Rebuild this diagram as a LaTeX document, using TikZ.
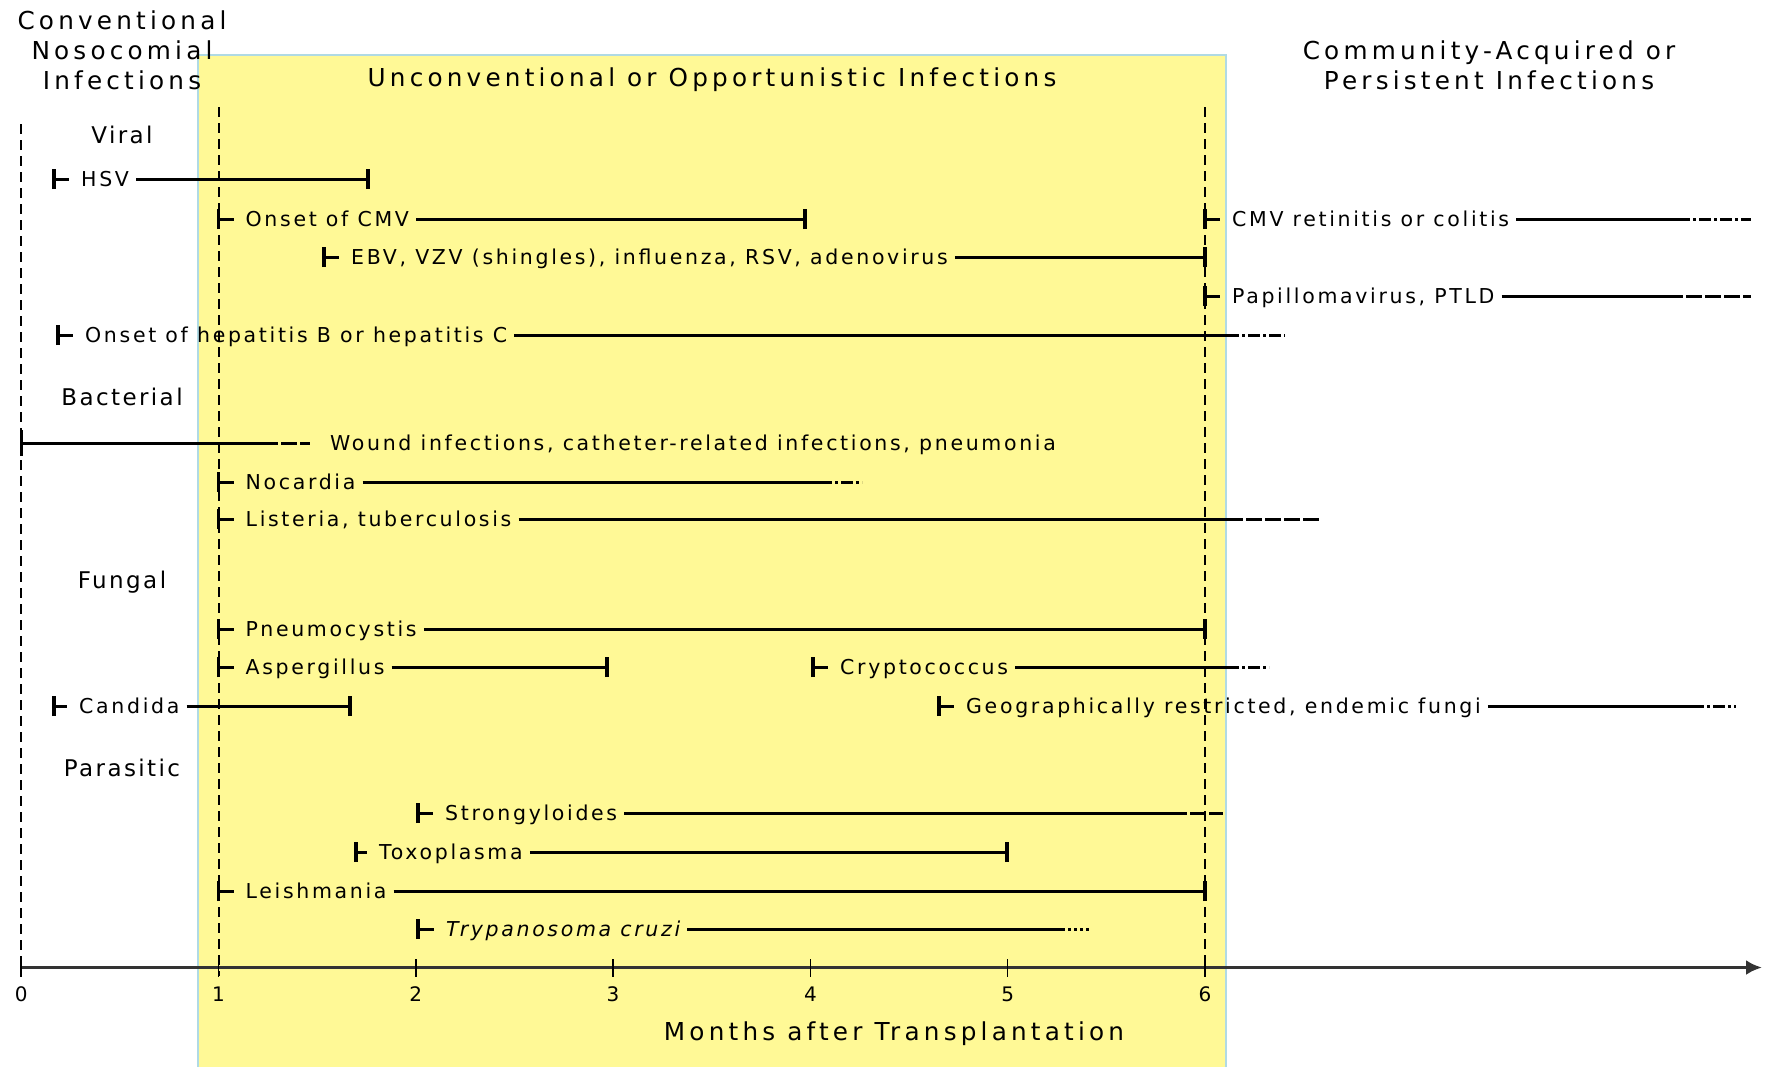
\documentclass[tikz,border=0pt]{standalone}
\usepackage{fontspec}
\usetikzlibrary{arrows.meta}
\setmainfont{DejaVu Sans}
\newfontfamily\rowfont{DejaVu Sans}[LetterSpace=13]
\newfontfamily\ttlfont{DejaVu Sans}[LetterSpace=17]
\newfontfamily\catfont{DejaVu Sans}[LetterSpace=10.5]
\definecolor{boxyellow}{RGB}{255,249,150}
\definecolor{boxblue}{RGB}{176,218,228}
\newcommand\tbarat[1]{\draw[tbar] ([yshift=-10pt]#1) -- ([yshift=10pt]#1);}
\begin{document}
\begin{tikzpicture}[x=1pt,y=-1pt,
  lbl/.style={anchor=west, inner xsep=7pt, inner ysep=0pt, text height=15pt, text depth=0pt, font=\rowfont\fontsize{20.5}{25}\selectfont},
  cat/.style={inner sep=0pt, font=\catfont\fontsize{23}{28}\selectfont},
  ttl/.style={inner sep=0pt, align=center, font=\ttlfont\fontsize{24.7}{30}\selectfont},
  tl/.style={line width=3pt},
  stub/.style={line width=3pt, shorten >=5pt},
  tbar/.style={line width=3.2pt},
  tailA/.style={line width=3pt, dash pattern=on 12pt off 3pt on 3pt off 3pt},
  tailB/.style={line width=3pt, dash pattern=on 16pt off 3pt},
  tailC/.style={line width=3pt, dash pattern=on 3pt off 3pt},
  vdash/.style={line width=2pt, dash pattern=on 10pt off 6pt},
  axisline/.style={line width=3.5pt, draw=black!80},
  tickline/.style={line width=1.5pt},
  ticklbl/.style={inner sep=0pt, font=\ttlfont\fontsize{20}{24}\selectfont},
]
\useasboundingbox (0,0) rectangle (1766,1066);
% opportunistic period box
\draw[fill=boxyellow, draw=boxblue, line width=2pt] (198,55) rectangle (1225.5,1080);

% titles
\node[ttl] (conv) at (122,50) {Conventional\\Nosocomial\\Infections};
\node[ttl] (unconv) at (712,80) {Unconventional or Opportunistic Infections};
\node[ttl] (comm) at (1489,65) {Community-Acquired or\\Persistent Infections};

% category labels
\node[cat] (viral) at (122,135) {Viral};
\node[cat] (bact) at (122,397) {Bacterial};
\node[cat] (fung) at (122,582) {Fungal};
\node[cat] (para) at (122,768) {Parasitic};

% dashed verticals
\coordinate (v0t) at (21.2,124); \coordinate (v0b) at (21.2,967.5);
\coordinate (v1t) at (218.5,107); \coordinate (v1b) at (218.5,976);
\coordinate (v6t) at (1205,107); \coordinate (v6b) at (1205,976);
\draw[vdash] (v0t) -- (v0b);
\draw[vdash] (v1t) -- (v1b);
\draw[vdash] (v6t) -- (v6b);

% axis
\coordinate (axs) at (21.2,967.5); \coordinate (axe) at (1762,967.5);
\draw[axisline, -{Latex[length=16pt,width=15pt]}] (axs) -- (axe);
\foreach \i in {0,...,6}{
  \coordinate (tk\i) at ({21.2+197.3*\i},967.5);
  \draw[tickline] ([yshift=-9pt]tk\i) -- ([yshift=9pt]tk\i);
  \node[ticklbl] (tl\i) at ({21.2+197.3*\i},994) {\i};
}
\node[ttl] (months) at (894,1034) {Months after Transplantation};

% ---------- Viral rows ----------
% HSV
\coordinate (hsvS) at (54,179); \coordinate (hsvE) at (368,179);
\node[lbl] (hsv) at ([xshift=20pt]hsvS) {HSV};
\tbarat{hsvS} \draw[stub] (hsvS) -- (hsv.west);
\draw[tl] (hsv.east) -- (hsvE); \tbarat{hsvE}
% Onset of CMV
\coordinate (cmvS) at (218.5,219); \coordinate (cmvE) at (805,219);
\node[lbl] (cmv) at ([xshift=20pt]cmvS) {Onset of CMV};
\tbarat{cmvS} \draw[stub] (cmvS) -- (cmv.west);
\draw[tl] (cmv.east) -- (cmvE); \tbarat{cmvE}
% CMV retinitis
\coordinate (cmvrS) at (1205,219); \coordinate (cmvrT) at (1678,219); \coordinate (cmvrE) at (1751,219);
\node[lbl] (cmvr) at ([xshift=20pt]cmvrS) {CMV retinitis or colitis};
\tbarat{cmvrS} \draw[stub] (cmvrS) -- (cmvr.west);
\draw[tl] (cmvr.east) -- (cmvrT); \draw[tailA] (cmvrT) -- (cmvrE);
% EBV
\coordinate (ebvS) at (324,257); \coordinate (ebvE) at (1205,257);
\node[lbl] (ebv) at ([xshift=20pt]ebvS) {EBV, VZV (shingles), influenza, RSV, adenovirus};
\tbarat{ebvS} \draw[stub] (ebvS) -- (ebv.west);
\draw[tl] (ebv.east) -- (ebvE); \tbarat{ebvE}
% Papillomavirus
\coordinate (papS) at (1205,296); \coordinate (papT) at (1667,296); \coordinate (papE) at (1751,296);
\node[lbl] (pap) at ([xshift=20pt]papS) {Papillomavirus, PTLD};
\tbarat{papS} \draw[stub] (papS) -- (pap.west);
\draw[tl] (pap.east) -- (papT); \draw[tailB] (papT) -- (papE);
% Hepatitis
\coordinate (hepS) at (58,335); \coordinate (hepT) at (1227,335); \coordinate (hepE) at (1285,335);
\node[lbl] (hep) at ([xshift=20pt]hepS) {Onset of hepatitis B or hepatitis C};
\tbarat{hepS} \draw[stub] (hepS) -- (hep.west);
\draw[tl] (hep.east) -- (hepT); \draw[tailA] (hepT) -- (hepE);

% ---------- Bacterial rows ----------
% Wound
\coordinate (wndS) at (21.2,443); \coordinate (wndT) at (262,443); \coordinate (wndE) at (310,443);
\node[lbl] (wnd) at (323,443) {Wound infections, catheter-related infections, pneumonia};
\draw[tbar] ([yshift=-13pt]wndS) -- ([yshift=13pt]wndS);
\draw[tl] (wndS) -- (wndT); \draw[tailB] (wndT) -- (wndE);
% Nocardia
\coordinate (nocS) at (218.5,482); \coordinate (nocT) at (820,482); \coordinate (nocE) at (862,482);
\node[lbl] (noc) at ([xshift=20pt]nocS) {Nocardia};
\tbarat{nocS} \draw[stub] (nocS) -- (noc.west);
\draw[tl] (noc.east) -- (nocT); \draw[tailA] (nocT) -- (nocE);
% Listeria
\coordinate (lisS) at (218.5,519); \coordinate (lisT) at (1227,519); \coordinate (lisE) at (1320,519);
\node[lbl] (lis) at ([xshift=20pt]lisS) {Listeria, tuberculosis};
\tbarat{lisS} \draw[stub] (lisS) -- (lis.west);
\draw[tl] (lis.east) -- (lisT); \draw[tailB] (lisT) -- (lisE);

% ---------- Fungal rows ----------
% Pneumocystis
\coordinate (pneS) at (218.5,629); \coordinate (pneE) at (1205,629);
\node[lbl] (pne) at ([xshift=20pt]pneS) {Pneumocystis};
\tbarat{pneS} \draw[stub] (pneS) -- (pne.west);
\draw[tl] (pne.east) -- (pneE); \tbarat{pneE}
% Aspergillus
\coordinate (aspS) at (218.5,667); \coordinate (aspE) at (607,667);
\node[lbl] (asp) at ([xshift=20pt]aspS) {Aspergillus};
\tbarat{aspS} \draw[stub] (aspS) -- (asp.west);
\draw[tl] (asp.east) -- (aspE); \tbarat{aspE}
% Cryptococcus
\coordinate (cryS) at (813,667); \coordinate (cryT) at (1227,667); \coordinate (cryE) at (1269,667);
\node[lbl] (cry) at ([xshift=20pt]cryS) {Cryptococcus};
\tbarat{cryS} \draw[stub] (cryS) -- (cry.west);
\draw[tl] (cry.east) -- (cryT); \draw[tailA] (cryT) -- (cryE);
% Candida
\coordinate (canS) at (54,706); \coordinate (canE) at (350,706);
\node[lbl] (can) at ([xshift=18pt]canS) {Candida};
\tbarat{canS} \draw[stub] (canS) -- (can.west);
\draw[tl] (can.east) -- (canE); \tbarat{canE}
% Geographically restricted
\coordinate (geoS) at (939,706); \coordinate (geoT) at (1692,706); \coordinate (geoE) at (1736,706);
\node[lbl] (geo) at ([xshift=20pt]geoS) {Geographically restricted, endemic fungi};
\tbarat{geoS} \draw[stub] (geoS) -- (geo.west);
\draw[tl] (geo.east) -- (geoT); \draw[tailA] (geoT) -- (geoE);

% ---------- Parasitic rows ----------
% Strongyloides
\coordinate (strS) at (418,813); \coordinate (strT) at (1171,813); \coordinate (strE) at (1223,813);
\node[lbl] (str) at ([xshift=20pt]strS) {Strongyloides};
\tbarat{strS} \draw[stub] (strS) -- (str.west);
\draw[tl] (str.east) -- (strT); \draw[tailB] (strT) -- (strE);
% Toxoplasma
\coordinate (toxS) at (356,852); \coordinate (toxE) at (1007,852);
\node[lbl] (tox) at ([xshift=16pt]toxS) {Toxoplasma};
\tbarat{toxS} \draw[stub] (toxS) -- (tox.west);
\draw[tl] (tox.east) -- (toxE); \tbarat{toxE}
% Leishmania
\coordinate (leiS) at (218.5,891); \coordinate (leiE) at (1205,891);
\node[lbl] (lei) at ([xshift=20pt]leiS) {Leishmania};
\tbarat{leiS} \draw[stub] (leiS) -- (lei.west);
\draw[tl] (lei.east) -- (leiE); \tbarat{leiE}
% Trypanosoma cruzi
\coordinate (trpS) at (418,929); \coordinate (trpT) at (1062,929); \coordinate (trpE) at (1090,929);
\node[lbl] (trp) at ([xshift=21pt]trpS) {\itshape Trypanosoma cruzi};
\tbarat{trpS} \draw[stub] (trpS) -- (trp.west);
\draw[tl] (trp.east) -- (trpT); \draw[tailC] (trpT) -- (trpE);
\end{tikzpicture}
\end{document}
